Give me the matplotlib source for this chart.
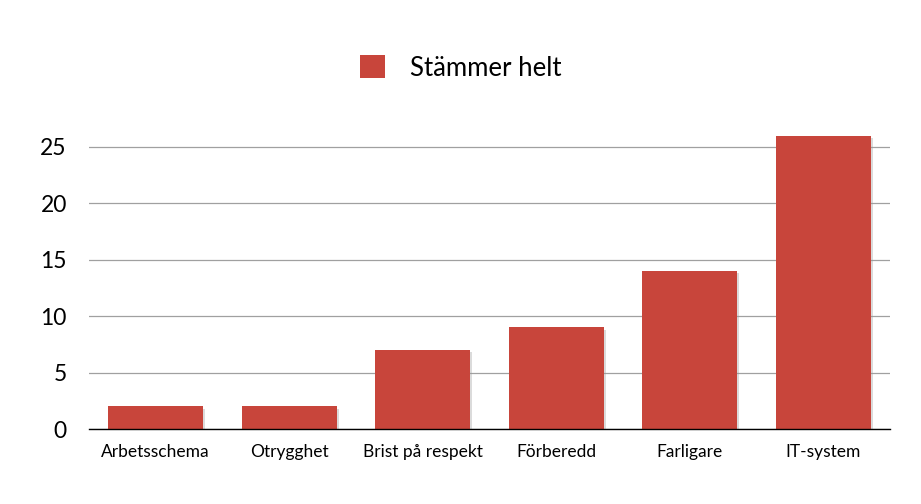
import numpy as np
import matplotlib
matplotlib.use("Agg")
import matplotlib.pyplot as plt
import matplotlib.patheffects as pe
from matplotlib.patches import Patch

# Données
categories = ["Arbetsschema", "Otrygghet", "Brist på respekt", "Förberedd", "Farligare", "IT-system"]
valeurs = [2, 2, 7, 9, 14, 26]
serie = "Stämmer helt"
yticks = [0, 5, 10, 15, 20, 25]

plt.rcParams['font.family'] = ['Lato', 'DejaVu Sans']

fig = plt.figure(figsize=(9.21, 5.04), dpi=100)
ax = fig.add_axes([89/921, 1 - 429/504, (890-89)/921, (429-135)/504])

x = np.arange(len(categories))
barres = ax.bar(x, valeurs, width=0.71, color="#C8453B", zorder=3)
for b in barres:
    b.set_path_effects([pe.SimplePatchShadow(offset=(1.5, -1.5), shadow_rgbFace="#999999", alpha=0.35),
                        pe.Normal()])

ax.set_xlim(-0.5, len(categories) - 0.5)
ax.set_ylim(0, 26.05)
ax.set_yticks(yticks)
ax.set_yticklabels([str(v) for v in yticks], fontsize=16.5)
ax.set_xticks(x)
ax.set_xticklabels(categories, fontsize=12.5)
ax.tick_params(axis='y', length=0, pad=16)
ax.tick_params(axis='x', length=0, pad=11)
ax.yaxis.grid(True, color="#a0a0a0", linewidth=0.9, zorder=0)
for s in ["top", "right", "left"]:
    ax.spines[s].set_visible(False)
ax.spines["bottom"].set_color("black")
ax.spines["bottom"].set_linewidth(1.0)
ax.spines["bottom"].set_zorder(4)

legende = Patch(facecolor="#C8453B", label=serie)
fig.legend(handles=[legende], labels=[serie], loc="center", bbox_to_anchor=(0.5, 1 - 68/504),
           frameon=False, fontsize=18.5, handlelength=1.0, handleheight=1.0, handletextpad=0.95)

fig.savefig("out.png", dpi=100)
